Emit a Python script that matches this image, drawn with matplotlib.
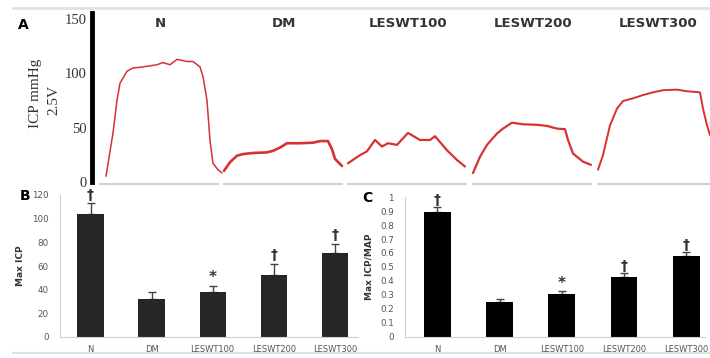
import numpy as np
import matplotlib
matplotlib.use('Agg')
import matplotlib.pyplot as plt
from matplotlib.lines import Line2D

# ---- panel A: ICP traces (time units arbitrary, values in mmHg) ----
groups = ['N', 'DM', 'LESWT100', 'LESWT200', 'LESWT300']
trace_start = [8, 132, 256, 381, 506]

n_t = [6, 13, 17, 20, 27, 33, 43, 57, 63, 70, 77, 87, 93, 100, 103, 107, 110, 113, 118, 122]
n_v = [5, 45, 75, 91, 102, 105, 106, 108, 110, 108, 113, 111, 111, 106, 97, 75, 38, 17, 11, 8]
dm_t = [0, 6, 13, 19, 29, 43, 49, 56, 63, 76, 89, 96, 104, 108, 111, 118]
dm_v = [10, 18, 24, 25.5, 26.5, 27, 28.5, 31.5, 35.5, 35.5, 36, 37.5, 37.5, 30, 21, 14.5]
l100_t = [0, 12, 19, 27, 34, 40, 49, 60, 72, 82, 87, 99, 109, 117]
l100_v = [17, 24.5, 28, 38.5, 32.5, 35.5, 34, 45, 38.5, 38.5, 42, 29, 20, 14]
l200_t = [0, 7, 14, 24, 30, 39, 50, 64, 74, 84, 92, 95, 100, 110, 118]
l200_v = [8, 23, 34, 44.5, 49, 54.5, 53, 52.5, 51.5, 49, 48.5, 38.5, 26, 18.5, 15.5]
l300_t = [0, 5, 12, 19, 25, 35, 45, 55, 65, 79, 89, 102, 105, 109, 112]
l300_v = [11, 24.5, 52, 67.5, 74.5, 77, 80, 82.5, 84.5, 85, 83.5, 82.5, 67.5, 52, 43]
traces = [(n_t, n_v), (dm_t, dm_v), (l100_t, l100_v), (l200_t, l200_v), (l300_t, l300_v)]
trace_lw = [1.1, 1.9, 1.6, 1.6, 1.4]

# ---- panel B / C: bar data ----
max_icp = [104, 32, 38, 52, 71]
max_icp_err = [9, 6, 5, 10, 8]
icp_map = [0.89, 0.25, 0.31, 0.43, 0.58]
icp_map_err = [0.04, 0.02, 0.02, 0.03, 0.03]
marks = ['\u2020', '', '*', '\u2020', '\u2020']

W, H = 710, 358
fig = plt.figure(figsize=(W / 100, H / 100), dpi=100)
fig.patch.set_facecolor('white')


def px_axes(x0, y0, x1, y1):
    # pixel box (top-left origin) -> figure axes
    return fig.add_axes([x0 / W, 1 - y1 / H, (x1 - x0) / W, (y1 - y0) / H])


# frame lines
fig.add_artist(Line2D([13 / W, 1], [1 - 8 / H, 1 - 8 / H], color='#e2e2e2', lw=2))
fig.add_artist(Line2D([13 / W, 1], [1 - 353 / H, 1 - 353 / H], color='#e2e2e2', lw=1.5))

# ---------- panel A ----------
axa = px_axes(92, 13, 710, 190)
axa.set_xlim(0, 618)
axa.set_ylim(-7.7, 155.8)
for s in ['top', 'right', 'bottom']:
    axa.spines[s].set_visible(False)
axa.spines['left'].set_linewidth(3.5)
axa.spines['left'].set_bounds(0, 155.8)
axa.set_xticks([])
axa.set_yticks([0, 50, 100, 150])
axa.tick_params(axis='y', length=0, pad=4, labelsize=10.5)
for lab in axa.get_yticklabels():
    lab.set_fontfamily('Liberation Serif')
    lab.set_color('#333333')

for g, x0, (t, v), lw in zip(groups, trace_start, traces, trace_lw):
    axa.plot(np.array(t) + x0, v, color='#d93030', lw=lw, solid_capstyle='round')
    axa.plot([x0, x0 + 118], [-2.4, -2.4], color='#c8d3de', lw=1.5, clip_on=False)
    axa.text(x0 + 60, 146, g, ha='center', va='center', fontsize=9.5,
             fontweight='bold', color='#333333')

fig.text(18 / W, 1 - 25 / H, 'A', fontsize=10, fontweight='bold', ha='left', va='center')
fig.text(35 / W, 1 - 93 / H, 'ICP mmHg', rotation=90, fontsize=11,
         family='Liberation Serif', ha='center', va='center', color='#333333')
fig.text(54 / W, 1 - 100 / H, '2.5V', rotation=90, fontsize=11,
         family='Liberation Serif', ha='center', va='center', color='#333333')


def bar_panel(ax, vals, errs, color, ymax, step, fmt, ylabel, mark_gap):
    x = np.arange(len(groups))
    ax.bar(x, vals, width=0.43, color=color, zorder=2)
    ax.errorbar(x, vals, yerr=[np.zeros(len(errs)), errs], fmt='none',
                ecolor='#444444', elinewidth=1, capsize=3, zorder=1)
    for xi, v, e, m in zip(x, vals, errs, marks):
        if m:
            ax.text(xi, v + e + mark_gap, m, ha='center', va='center',
                    fontsize=10 if m != '*' else 11, fontweight='bold', color='#333333')
    ax.set_ylim(0, ymax)
    ticks = np.arange(0, ymax + step / 2, step)
    ax.set_yticks(ticks)
    ax.set_yticklabels([fmt(t) for t in ticks])
    ax.set_xticks(x)
    ax.set_xticklabels(groups)
    ax.tick_params(axis='x', length=0, labelsize=6, labelcolor='#555555', pad=6)
    ax.tick_params(axis='y', length=0, labelsize=6.3, labelcolor='#555555', pad=8)
    for s in ['top', 'right']:
        ax.spines[s].set_visible(False)
    ax.spines['left'].set_color('#cfcfcf')
    ax.spines['bottom'].set_color('#cfcfcf')
    ax.set_ylabel(ylabel, fontsize=6.5, fontweight='bold', color='#333333', labelpad=5)


axb = px_axes(60, 195, 358, 337)
axb.set_xlim(-0.5, 4.38)
bar_panel(axb, max_icp, max_icp_err, '#262626', 120, 20,
          lambda t: '%d' % t, 'Max ICP', 7)
fig.text(25 / W, 1 - 196 / H, 'B', fontsize=10, fontweight='bold', ha='center', va='center')

axc = px_axes(405, 197, 705, 337)
axc.set_xlim(-0.52, 4.3)
bar_panel(axc, icp_map, icp_map_err, 'black', 1.0, 0.1,
          lambda t: '%g' % round(t, 1), 'Max ICP/MAP', 0.05)
fig.text(367 / W, 1 - 198 / H, 'C', fontsize=10, fontweight='bold', ha='center', va='center')

fig.savefig('out.png', dpi=100)
